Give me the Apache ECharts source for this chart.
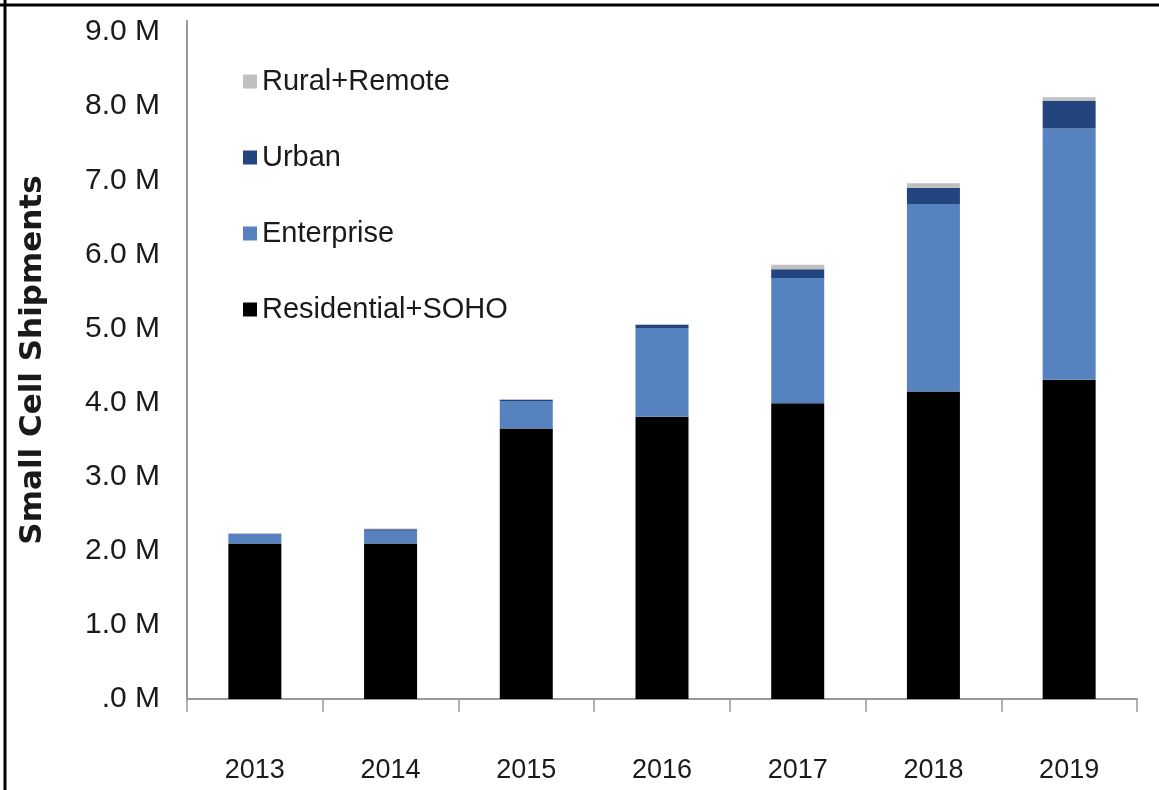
<!DOCTYPE html>
<html>
<head>
<meta charset="UTF-8">
<title>Small Cell Shipments</title>
<script src="https://cdn.jsdelivr.net/npm/echarts@6/dist/echarts.min.js"></script>
<style>
  html, body { margin: 0; padding: 0; background: #fff; }
  #chart { width: 1159px; height: 790px; }
</style>
</head>
<body>
<div id="chart"></div>
<script>
// data (millions of units)
var years = ['2013', '2014', '2015', '2016', '2017', '2018', '2019'];
var residential = [2.10, 2.10, 3.65, 3.81, 3.99, 4.15, 4.31];
var enterprise = [0.13, 0.17, 0.37, 1.19, 1.69, 2.53, 3.39];
var urban = [0.00, 0.02, 0.02, 0.05, 0.12, 0.22, 0.37];
var rural = [0.01, 0.01, 0.01, 0.01, 0.06, 0.06, 0.05];
var seriesNames = ['Residential+SOHO', 'Enterprise', 'Urban', 'Rural+Remote'];
var yMin = 0, yStep = 1, yTop = 9.15; // axis line runs a bit past the 9.0 M tick

var colors = ['#000000', '#5683c0', '#22457f', '#c0c0c0'];
var labelFont = "'Liberation Sans', Arial, sans-serif";

var chart = echarts.init(document.getElementById('chart'));

function bar(name, values, color) {
  return {
    name: name,
    type: 'bar',
    stack: 'total',
    barWidth: 53,
    itemStyle: { color: color },
    data: values
  };
}

var option = {
  animation: false,
  backgroundColor: '#ffffff',
  grid: { left: 187, right: 22, top: 21, bottom: 91 },
  legend: {
    orient: 'vertical',
    left: 238,
    top: 62,
    itemWidth: 14,
    itemHeight: 14,
    itemGap: 47,
    icon: 'rect',
    data: ['Rural+Remote', 'Urban', 'Enterprise', 'Residential+SOHO'],
    textStyle: { fontFamily: labelFont, fontSize: 29, color: '#1a1a1a' }
  },
  xAxis: {
    type: 'category',
    data: years,
    axisLine: { lineStyle: { color: '#999', width: 2 } },
    axisTick: { show: true, length: 13, lineStyle: { color: '#999', width: 1.5 } },
    axisLabel: { fontFamily: labelFont, fontSize: 27, color: '#1a1a1a', margin: 58 }
  },
  yAxis: {
    type: 'value',
    min: yMin,
    max: yTop,
    interval: yStep,
    splitLine: { show: false },
    axisLine: { show: true, lineStyle: { color: '#999', width: 2 } },
    axisTick: { show: false },
    axisLabel: {
      fontFamily: labelFont,
      fontSize: 30,
      color: '#1a1a1a',
      margin: 27,
      showMaxLabel: false,
      formatter: function (v) { return v === 0 ? '.0 M' : v.toFixed(1) + ' M'; }
    },
    name: 'Small Cell Shipments',
    nameLocation: 'middle',
    nameGap: 139,
    nameRotate: 90,
    nameTextStyle: { fontFamily: "'DejaVu Sans', sans-serif", fontWeight: 'bold', fontSize: 31, color: '#1a1a1a' }
  },
  graphic: [
    { type: 'line', shape: { x1: 5, y1: 0, x2: 5, y2: 790 }, style: { stroke: '#000', lineWidth: 3 } },
    { type: 'line', shape: { x1: 0, y1: 5, x2: 1159, y2: 5 }, style: { stroke: '#000', lineWidth: 3 } }
  ],
  series: [
    bar(seriesNames[0], residential, colors[0]),
    bar(seriesNames[1], enterprise, colors[1]),
    bar(seriesNames[2], urban, colors[2]),
    bar(seriesNames[3], rural, colors[3])
  ]
};

chart.setOption(option);
</script>
</body>
</html>
